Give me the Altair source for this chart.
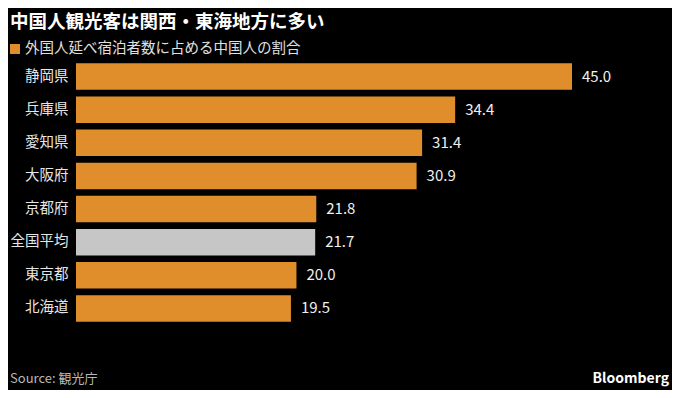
import altair as alt
import pandas as pd

categories = ["静岡県", "兵庫県", "愛知県", "大阪府", "京都府", "全国平均", "東京都", "北海道"]
values = [45.0, 34.4, 31.4, 30.9, 21.8, 21.7, 20.0, 19.5]
kinds = ["pref", "pref", "pref", "pref", "pref", "avg", "pref", "pref"]

title_text = "中国人観光客は関西・東海地方に多い"
legend_text = "外国人延べ宿泊者数に占める中国人の割合"
source_text = "Source: 観光庁"
brand_text = "Bloomberg"

FONT = "Noto Sans CJK JP"
ORANGE = "#E08E2B"
GREY = "#C6C6C6"

df = pd.DataFrame({"cat": categories, "val": values, "kind": kinds})
df["label"] = [f"{v:.1f}" for v in values]

PL, PT, PB = 68, 52, 65
W, H = 664 - PL, 265

y_enc = alt.Y("cat:N", sort=categories,
              scale=alt.Scale(paddingInner=0.2, paddingOuter=0.1),
              axis=alt.Axis(title=None, domain=False, ticks=False, labelPadding=8,
                            labelFontSize=14.5, labelColor="#E6E6E6", labelFont=FONT))
x_enc = alt.X("val:Q", scale=alt.Scale(domain=[0, 45 * W / (564 - PL)]), axis=None)

bars = alt.Chart(df).mark_bar().encode(
    x=x_enc, y=y_enc,
    color=alt.Color("kind:N", scale=alt.Scale(domain=["pref", "avg"], range=[ORANGE, GREY]), legend=None),
)
labels = alt.Chart(df).mark_text(align="left", baseline="middle", dx=10, fontSize=15,
                                 font=FONT, color="#F0F0F0").encode(
    x=x_enc, y=alt.Y("cat:N", sort=categories), text="label:N")

def note(txt, x, y, **kw):
    return alt.Chart(pd.DataFrame({"t": [txt]})).mark_text(baseline="middle", font=FONT, **kw).encode(
        text="t:N", x=alt.value(x), y=alt.value(y))

title = note(title_text, -PL + 2, -38, align="left", fontSize=18.5, fontWeight="bold", color="#FFFFFF")
leg_sq = alt.Chart(pd.DataFrame({"t": [legend_text]})).mark_square(size=100, color=ORANGE, opacity=1).encode(
    x=alt.value(-PL + 7), y=alt.value(-11))
leg_txt = note(legend_text, -PL + 17, -11, align="left", fontSize=14.5, color="#E0E0E0")
source = note(source_text, -PL + 2, 319, align="left", fontSize=13, color="#B8B8B8")
brand = note(brand_text, W - 3, 319, align="right", fontSize=14, fontWeight="bold", color="#FFFFFF")

chart = alt.layer(bars, labels, title, leg_sq, leg_txt, source, brand).properties(
    width=W, height=H,
    autosize=alt.AutoSizeParams(type="none"),
    padding={"left": PL, "top": PT, "right": 0, "bottom": PB},
).configure(background="#000000").configure_view(strokeWidth=0)

chart.save("out.html", embed_options={"renderer": "svg", "actions": False})
